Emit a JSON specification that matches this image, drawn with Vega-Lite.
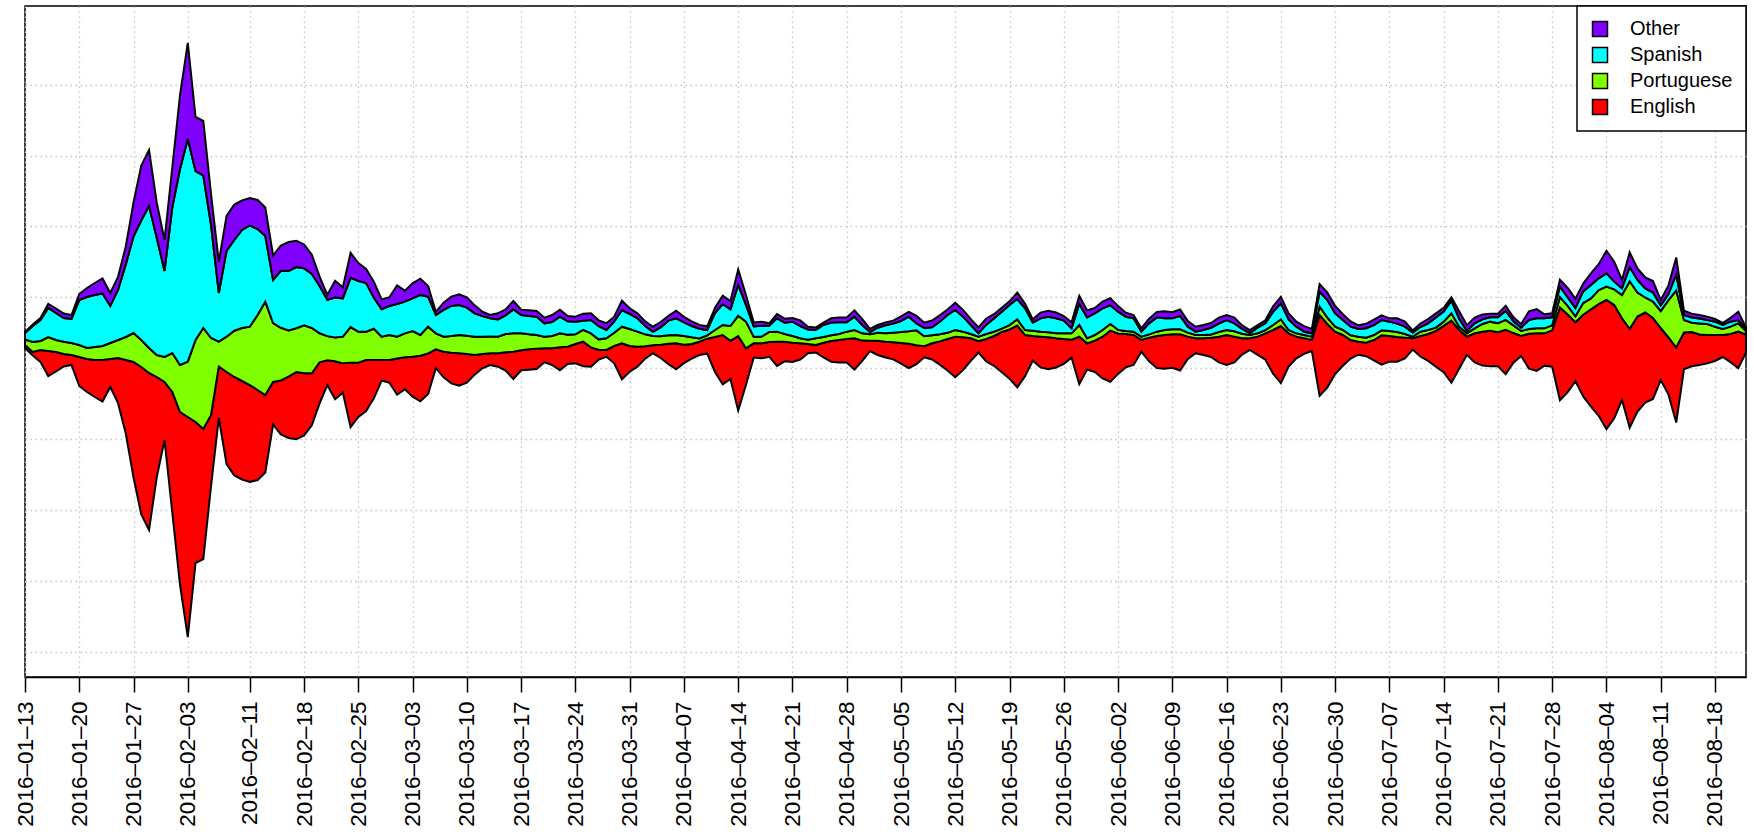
{
"$schema": "https://vega.github.io/schema/vega-lite/v6.json",
"width": 1721, "height": 671,
"autosize": {"type": "none"},
"padding": {"left": 25, "top": 6, "right": 8, "bottom": 159},
"background": "white",
"config": {"view": {"stroke": "black", "strokeWidth": 1.5}, "font": "Liberation Sans", "legend": {"strokeWidth": 1.5}},
"data": {"values": [
{"date":"2016-01-13","Other":1,"Spanish":6.5,"Portuguese":5.5,"English":3},
{"date":"2016-01-14","Other":1.5,"Spanish":16,"Portuguese":10,"English":3.5},
{"date":"2016-01-15","Other":2,"Spanish":21,"Portuguese":9,"English":12},
{"date":"2016-01-16","Other":4,"Spanish":29,"Portuguese":14,"English":25},
{"date":"2016-01-17","Other":4.5,"Spanish":27,"Portuguese":12,"English":19.5},
{"date":"2016-01-18","Other":4.5,"Spanish":23.7,"Portuguese":12.3,"English":12.5},
{"date":"2016-01-19","Other":4,"Spanish":24,"Portuguese":12,"English":10},
{"date":"2016-01-20","Other":6,"Spanish":45,"Portuguese":12,"English":29},
{"date":"2016-01-21","Other":9,"Spanish":51,"Portuguese":11,"English":33},
{"date":"2016-01-22","Other":12,"Spanish":52,"Portuguese":13,"English":37},
{"date":"2016-01-23","Other":15,"Spanish":52.5,"Portuguese":14,"English":41.5},
{"date":"2016-01-24","Other":13,"Spanish":37,"Portuguese":16,"English":28},
{"date":"2016-01-25","Other":13,"Spanish":50,"Portuguese":18,"English":45},
{"date":"2016-01-26","Other":18,"Spanish":72.5,"Portuguese":23,"English":73.5},
{"date":"2016-01-27","Other":34,"Spanish":96.5,"Portuguese":29,"English":115.5},
{"date":"2016-01-28","Other":55,"Spanish":119.5,"Portuguese":27,"English":147.5},
{"date":"2016-01-29","Other":56,"Spanish":142,"Portuguese":25,"English":157},
{"date":"2016-01-30","Other":35,"Spanish":117,"Portuguese":22,"English":100},
{"date":"2016-01-31","Other":31,"Spanish":86,"Portuguese":25,"English":58},
{"date":"2016-02-01","Other":40,"Spanish":145.5,"Portuguese":39,"English":120.5},
{"date":"2016-02-02","Other":74,"Spanish":196,"Portuguese":47,"English":173},
{"date":"2016-02-03","Other":96,"Spanish":222.7,"Portuguese":55.3,"English":220},
{"date":"2016-02-04","Other":54,"Spanish":169,"Portuguese":82,"English":141},
{"date":"2016-02-05","Other":54.6,"Spanish":152.4,"Portuguese":101,"English":130},
{"date":"2016-02-06","Other":31,"Spanish":113,"Portuguese":77,"English":71},
{"date":"2016-02-07","Other":31,"Spanish":48.7,"Portuguese":24.8,"English":51.5},
{"date":"2016-02-08","Other":35,"Spanish":85.7,"Portuguese":35.3,"English":92},
{"date":"2016-02-09","Other":35.5,"Spanish":90.7,"Portuguese":46.3,"English":98.5},
{"date":"2016-02-10","Other":29.5,"Spanish":98,"Portuguese":53,"English":98.5},
{"date":"2016-02-11","Other":27.5,"Spanish":101.2,"Portuguese":58.3,"English":97},
{"date":"2016-02-12","Other":29,"Spanish":86,"Portuguese":75,"English":90},
{"date":"2016-02-13","Other":28.5,"Spanish":65.7,"Portuguese":93.3,"English":77.5},
{"date":"2016-02-14","Other":24.5,"Spanish":43,"Portuguese":59,"English":42.5},
{"date":"2016-02-15","Other":25.3,"Spanish":57,"Portuguese":52.7,"English":54},
{"date":"2016-02-16","Other":29,"Spanish":59.3,"Portuguese":46.3,"English":61.3},
{"date":"2016-02-17","Other":26.3,"Spanish":61.3,"Portuguese":43.7,"English":67.3},
{"date":"2016-02-18","Other":23.7,"Spanish":57,"Portuguese":48,"English":62},
{"date":"2016-02-19","Other":19.3,"Spanish":54,"Portuguese":45.3,"English":52},
{"date":"2016-02-20","Other":9.3,"Spanish":47.3,"Portuguese":29,"English":41},
{"date":"2016-02-21","Other":5,"Spanish":36.3,"Portuguese":24,"English":25},
{"date":"2016-02-22","Other":16.7,"Spanish":40,"Portuguese":23.7,"English":38},
{"date":"2016-02-23","Other":11,"Spanish":38.3,"Portuguese":26.7,"English":29.3},
{"date":"2016-02-24","Other":25,"Spanish":49.3,"Portuguese":35.7,"English":64.3},
{"date":"2016-02-25","Other":18,"Spanish":50.7,"Portuguese":31,"English":54.3},
{"date":"2016-02-26","Other":14,"Spanish":48.7,"Portuguese":28.3,"English":51},
{"date":"2016-02-27","Other":16,"Spanish":31,"Portuguese":31.3,"English":38.3},
{"date":"2016-02-28","Other":10,"Spanish":27.3,"Portuguese":23.3,"English":20.7},
{"date":"2016-02-29","Other":8.7,"Spanish":29,"Portuguese":25,"English":22.7},
{"date":"2016-03-01","Other":18.7,"Spanish":32.7,"Portuguese":21.7,"English":36.3},
{"date":"2016-03-02","Other":11,"Spanish":31.7,"Portuguese":24,"English":32},
{"date":"2016-03-03","Other":15,"Spanish":32.7,"Portuguese":25.7,"English":40},
{"date":"2016-03-04","Other":16.3,"Spanish":40,"Portuguese":20.7,"English":45.7},
{"date":"2016-03-05","Other":10.7,"Spanish":30,"Portuguese":26.7,"English":40.7},
{"date":"2016-03-06","Other":3,"Spanish":18.3,"Portuguese":16,"English":18.7},
{"date":"2016-03-07","Other":7.3,"Spanish":26.7,"Portuguese":15,"English":25.7},
{"date":"2016-03-08","Other":9.3,"Spanish":30,"Portuguese":16.7,"English":30.7},
{"date":"2016-03-09","Other":10.7,"Spanish":30,"Portuguese":18.3,"English":32.3},
{"date":"2016-03-10","Other":10.3,"Spanish":28,"Portuguese":18.3,"English":28.7},
{"date":"2016-03-11","Other":8,"Spanish":23.3,"Portuguese":18.3,"English":19.7},
{"date":"2016-03-12","Other":4.3,"Spanish":20.7,"Portuguese":17.3,"English":14.3},
{"date":"2016-03-13","Other":3.3,"Spanish":18.3,"Portuguese":16.7,"English":11.7},
{"date":"2016-03-14","Other":6,"Spanish":17.3,"Portuguese":16.7,"English":13.3},
{"date":"2016-03-15","Other":6,"Spanish":18.7,"Portuguese":18.3,"English":18.3},
{"date":"2016-03-16","Other":8.3,"Spanish":24,"Portuguese":18.3,"English":27.3},
{"date":"2016-03-17","Other":5.3,"Spanish":18.3,"Portuguese":17,"English":20},
{"date":"2016-03-18","Other":5.7,"Spanish":18.3,"Portuguese":15,"English":20.3},
{"date":"2016-03-19","Other":5.7,"Spanish":18.3,"Portuguese":13.7,"English":20.3},
{"date":"2016-03-20","Other":5.7,"Spanish":13.3,"Portuguese":11.7,"English":14},
{"date":"2016-03-21","Other":7,"Spanish":14,"Portuguese":12.3,"English":16.7},
{"date":"2016-03-22","Other":7,"Spanish":16.7,"Portuguese":14,"English":23},
{"date":"2016-03-23","Other":5.3,"Spanish":13.3,"Portuguese":12,"English":17.3},
{"date":"2016-03-24","Other":5,"Spanish":12.7,"Portuguese":9.7,"English":19.3},
{"date":"2016-03-25","Other":6.8,"Spanish":9.3,"Portuguese":11.7,"English":24.5},
{"date":"2016-03-26","Other":6.7,"Spanish":13.3,"Portuguese":14,"English":19.3},
{"date":"2016-03-27","Other":5.7,"Spanish":13.3,"Portuguese":10.3,"English":10},
{"date":"2016-03-28","Other":6.7,"Spanish":8.3,"Portuguese":11.7,"English":6.7},
{"date":"2016-03-29","Other":5,"Spanish":11,"Portuguese":13.3,"English":17.3},
{"date":"2016-03-30","Other":9.2,"Spanish":16.7,"Portuguese":16.7,"English":35.8},
{"date":"2016-03-31","Other":5.7,"Spanish":15,"Portuguese":17,"English":25.7},
{"date":"2016-04-01","Other":5,"Spanish":13.3,"Portuguese":15,"English":20},
{"date":"2016-04-02","Other":4.7,"Spanish":8.3,"Portuguese":12,"English":12.3},
{"date":"2016-04-03","Other":5,"Spanish":4.3,"Portuguese":9.3,"English":8},
{"date":"2016-04-04","Other":5.3,"Spanish":9,"Portuguese":8.3,"English":13.3},
{"date":"2016-04-05","Other":4.8,"Spanish":14.7,"Portuguese":8.3,"English":20.5},
{"date":"2016-04-06","Other":7.7,"Spanish":16.7,"Portuguese":8.3,"English":26},
{"date":"2016-04-07","Other":5.5,"Spanish":13.7,"Portuguese":8.7,"English":18.5},
{"date":"2016-04-08","Other":4.7,"Spanish":11.3,"Portuguese":6.7,"English":14.7},
{"date":"2016-04-09","Other":3.7,"Spanish":9.7,"Portuguese":3.3,"English":13.3},
{"date":"2016-04-10","Other":3.7,"Spanish":5.3,"Portuguese":3.3,"English":15},
{"date":"2016-04-11","Other":5,"Spanish":17,"Portuguese":7,"English":35},
{"date":"2016-04-12","Other":8.3,"Spanish":21,"Portuguese":10,"English":49.3},
{"date":"2016-04-13","Other":8.2,"Spanish":16.7,"Portuguese":14.7,"English":38.2},
{"date":"2016-04-14","Other":15.5,"Spanish":30.7,"Portuguese":20.3,"English":74.5},
{"date":"2016-04-15","Other":10,"Spanish":16.7,"Portuguese":26.7,"English":36.7},
{"date":"2016-04-16","Other":4,"Spanish":10.2,"Portuguese":6.7,"English":14.2},
{"date":"2016-04-17","Other":4,"Spanish":11,"Portuguese":6.7,"English":15},
{"date":"2016-04-18","Other":2.3,"Spanish":6.3,"Portuguese":10,"English":14.7},
{"date":"2016-04-19","Other":4.2,"Spanish":13.3,"Portuguese":10,"English":24.2},
{"date":"2016-04-20","Other":4,"Spanish":11.3,"Portuguese":7.7,"English":19.7},
{"date":"2016-04-21","Other":3.7,"Spanish":14.3,"Portuguese":6.7,"English":19.3},
{"date":"2016-04-22","Other":5.5,"Spanish":12.3,"Portuguese":5,"English":16.2},
{"date":"2016-04-23","Other":2.7,"Spanish":10.3,"Portuguese":4.3,"English":9.3},
{"date":"2016-04-24","Other":2.5,"Spanish":8.3,"Portuguese":6.7,"English":7.5},
{"date":"2016-04-25","Other":2.5,"Spanish":12,"Portuguese":5.7,"English":14.8},
{"date":"2016-04-26","Other":4.3,"Spanish":12.7,"Portuguese":5.7,"English":20.7},
{"date":"2016-04-27","Other":4.8,"Spanish":11.7,"Portuguese":6,"English":22.5},
{"date":"2016-04-28","Other":4.8,"Spanish":9.3,"Portuguese":7.3,"English":23.5},
{"date":"2016-04-29","Other":6.3,"Spanish":13.3,"Portuguese":8.3,"English":31.3},
{"date":"2016-04-30","Other":5.8,"Spanish":8.3,"Portuguese":7.3,"English":20.2},
{"date":"2016-05-01","Other":3.2,"Spanish":2.3,"Portuguese":6.3,"English":10.5},
{"date":"2016-05-02","Other":2.7,"Spanish":5,"Portuguese":8,"English":14.3},
{"date":"2016-05-03","Other":2.8,"Spanish":8,"Portuguese":8.3,"English":15.8},
{"date":"2016-05-04","Other":3,"Spanish":9,"Portuguese":9.7,"English":17},
{"date":"2016-05-05","Other":4.7,"Spanish":11,"Portuguese":11,"English":20.7},
{"date":"2016-05-06","Other":4.8,"Spanish":14.7,"Portuguese":12.3,"English":24.5},
{"date":"2016-05-07","Other":7.5,"Spanish":7,"Portuguese":15,"English":18.8},
{"date":"2016-05-08","Other":5.3,"Spanish":8.3,"Portuguese":10,"English":11},
{"date":"2016-05-09","Other":6.8,"Spanish":8,"Portuguese":8,"English":16.2},
{"date":"2016-05-10","Other":6.3,"Spanish":12.7,"Portuguese":7,"English":23.3},
{"date":"2016-05-11","Other":5.5,"Spanish":17.7,"Portuguese":6.3,"English":31.5},
{"date":"2016-05-12","Other":7.2,"Spanish":20,"Portuguese":6.7,"English":40.5},
{"date":"2016-05-13","Other":6.8,"Spanish":15,"Portuguese":5.7,"English":32.8},
{"date":"2016-05-14","Other":5.8,"Spanish":9,"Portuguese":4.3,"English":22.5},
{"date":"2016-05-15","Other":5.8,"Spanish":3.3,"Portuguese":4.7,"English":11.2},
{"date":"2016-05-16","Other":6.2,"Spanish":9.3,"Portuguese":5,"English":22.5},
{"date":"2016-05-17","Other":4.2,"Spanish":13.3,"Portuguese":4.3,"English":29.8},
{"date":"2016-05-18","Other":4,"Spanish":17,"Portuguese":3.3,"English":40.3},
{"date":"2016-05-19","Other":3.7,"Spanish":20,"Portuguese":4.3,"English":49.3},
{"date":"2016-05-20","Other":6.3,"Spanish":20.3,"Portuguese":6.3,"English":61.7},
{"date":"2016-05-21","Other":4.7,"Spanish":21.7,"Portuguese":5,"English":41.3},
{"date":"2016-05-22","Other":3.3,"Spanish":8,"Portuguese":5.3,"English":24.7},
{"date":"2016-05-23","Other":5.8,"Spanish":13.3,"Portuguese":5,"English":30.8},
{"date":"2016-05-24","Other":5.8,"Spanish":15.7,"Portuguese":5,"English":31.8},
{"date":"2016-05-25","Other":5.8,"Spanish":15,"Portuguese":5,"English":29.2},
{"date":"2016-05-26","Other":4.5,"Spanish":12.7,"Portuguese":5.7,"English":24.8},
{"date":"2016-05-27","Other":6,"Spanish":5,"Portuguese":6.3,"English":18},
{"date":"2016-05-28","Other":8.2,"Spanish":21,"Portuguese":11.7,"English":47.5},
{"date":"2016-05-29","Other":7,"Spanish":21,"Portuguese":5,"English":26.3},
{"date":"2016-05-30","Other":5.3,"Spanish":21.7,"Portuguese":5.7,"English":31.3},
{"date":"2016-05-31","Other":6.7,"Spanish":21.7,"Portuguese":6.7,"English":41.7},
{"date":"2016-06-01","Other":7,"Spanish":18.7,"Portuguese":6.7,"English":51},
{"date":"2016-06-02","Other":5.5,"Spanish":18.3,"Portuguese":3.5,"English":40.5},
{"date":"2016-06-03","Other":4,"Spanish":14.3,"Portuguese":3,"English":33.3},
{"date":"2016-06-04","Other":3.3,"Spanish":13.3,"Portuguese":3.3,"English":30},
{"date":"2016-06-05","Other":3.3,"Spanish":5,"Portuguese":3.3,"English":11.7},
{"date":"2016-06-06","Other":4.7,"Spanish":11,"Portuguese":3.3,"English":23.7},
{"date":"2016-06-07","Other":5.3,"Spanish":14.3,"Portuguese":4.3,"English":32},
{"date":"2016-06-08","Other":7,"Spanish":11.7,"Portuguese":5,"English":33.7},
{"date":"2016-06-09","Other":6.2,"Spanish":11,"Portuguese":5,"English":33.5},
{"date":"2016-06-10","Other":6.5,"Spanish":13.3,"Portuguese":5,"English":36.2},
{"date":"2016-06-11","Other":5.5,"Spanish":6,"Portuguese":4,"English":22.2},
{"date":"2016-06-12","Other":5,"Spanish":3.3,"Portuguese":3.3,"English":15},
{"date":"2016-06-13","Other":5,"Spanish":5,"Portuguese":3.3,"English":16.7},
{"date":"2016-06-14","Other":4.7,"Spanish":6.7,"Portuguese":3.3,"English":19.3},
{"date":"2016-06-15","Other":6,"Spanish":8.3,"Portuguese":4.7,"English":25.7},
{"date":"2016-06-16","Other":5,"Spanish":10,"Portuguese":5,"English":30},
{"date":"2016-06-17","Other":5.8,"Spanish":8,"Portuguese":5.3,"English":25.8},
{"date":"2016-06-18","Other":3.5,"Spanish":4.7,"Portuguese":4.7,"English":16.2},
{"date":"2016-06-19","Other":3,"Spanish":2,"Portuguese":3.3,"English":11.7},
{"date":"2016-06-20","Other":2.5,"Spanish":5.7,"Portuguese":3.3,"English":18.2},
{"date":"2016-06-21","Other":3,"Spanish":6.7,"Portuguese":3.3,"English":26.3},
{"date":"2016-06-22","Other":5.5,"Spanish":13.3,"Portuguese":5,"English":43.8},
{"date":"2016-06-23","Other":6.5,"Spanish":16,"Portuguese":6.7,"English":57.2},
{"date":"2016-06-24","Other":6,"Spanish":10.7,"Portuguese":3.3,"English":33.3},
{"date":"2016-06-25","Other":5,"Spanish":6.7,"Portuguese":3.3,"English":21.7},
{"date":"2016-06-26","Other":5.5,"Spanish":3.3,"Portuguese":3.3,"English":15.5},
{"date":"2016-06-27","Other":4.5,"Spanish":3.3,"Portuguese":3.3,"English":11.2},
{"date":"2016-06-28","Other":7.5,"Spanish":15,"Portuguese":8.3,"English":80.8},
{"date":"2016-06-29","Other":7.3,"Spanish":17.7,"Portuguese":6.3,"English":63.3},
{"date":"2016-06-30","Other":7.3,"Spanish":13.3,"Portuguese":5,"English":42.3},
{"date":"2016-07-01","Other":5.7,"Spanish":10,"Portuguese":5,"English":30.7},
{"date":"2016-07-02","Other":5.2,"Spanish":8.7,"Portuguese":4.7,"English":18.5},
{"date":"2016-07-03","Other":3.7,"Spanish":7.7,"Portuguese":5,"English":13},
{"date":"2016-07-04","Other":4.5,"Spanish":9.3,"Portuguese":5,"English":13.5},
{"date":"2016-07-05","Other":5.3,"Spanish":10,"Portuguese":5,"English":20.3},
{"date":"2016-07-06","Other":4.7,"Spanish":10.3,"Portuguese":5,"English":29.3},
{"date":"2016-07-07","Other":3.3,"Spanish":9.3,"Portuguese":5,"English":25.7},
{"date":"2016-07-08","Other":5.3,"Spanish":8.3,"Portuguese":5,"English":24.7},
{"date":"2016-07-09","Other":5,"Spanish":7.3,"Portuguese":3.7,"English":20.7},
{"date":"2016-07-10","Other":2,"Spanish":4.2,"Portuguese":1.7,"English":11.2},
{"date":"2016-07-11","Other":3.5,"Spanish":4.7,"Portuguese":4.3,"English":20.5},
{"date":"2016-07-12","Other":4.3,"Spanish":6.7,"Portuguese":4,"English":27},
{"date":"2016-07-13","Other":4,"Spanish":10.3,"Portuguese":3.3,"English":35.7},
{"date":"2016-07-14","Other":3.8,"Spanish":10,"Portuguese":4.3,"English":46.2},
{"date":"2016-07-15","Other":3.3,"Spanish":12.7,"Portuguese":7.3,"English":62},
{"date":"2016-07-16","Other":7.5,"Spanish":8,"Portuguese":3.3,"English":38.8},
{"date":"2016-07-17","Other":5.8,"Spanish":2.3,"Portuguese":3.3,"English":18.2},
{"date":"2016-07-18","Other":5.8,"Spanish":5,"Portuguese":5,"English":29.2},
{"date":"2016-07-19","Other":4.7,"Spanish":4.7,"Portuguese":7.7,"English":33.7},
{"date":"2016-07-20","Other":3.7,"Spanish":4.3,"Portuguese":9,"English":35.7},
{"date":"2016-07-21","Other":3.5,"Spanish":6,"Portuguese":9,"English":34.2},
{"date":"2016-07-22","Other":5,"Spanish":9,"Portuguese":10,"English":44.3},
{"date":"2016-07-23","Other":4,"Spanish":4,"Portuguese":7.7,"English":29.6},
{"date":"2016-07-24","Other":3.7,"Spanish":3.3,"Portuguese":5,"English":20},
{"date":"2016-07-25","Other":8.7,"Spanish":9,"Portuguese":4.7,"English":35},
{"date":"2016-07-26","Other":9.2,"Spanish":10,"Portuguese":5,"English":37.5},
{"date":"2016-07-27","Other":4,"Spanish":10,"Portuguese":5,"English":32.3},
{"date":"2016-07-28","Other":4,"Spanish":8,"Portuguese":5,"English":36.3},
{"date":"2016-07-29","Other":6.7,"Spanish":10.5,"Portuguese":10.5,"English":92.5},
{"date":"2016-07-30","Other":9.5,"Spanish":8.3,"Portuguese":8.8,"English":77.4},
{"date":"2016-07-31","Other":9.2,"Spanish":8.3,"Portuguese":6,"English":59},
{"date":"2016-08-01","Other":7.8,"Spanish":11.7,"Portuguese":11.7,"English":81.7},
{"date":"2016-08-02","Other":11.7,"Spanish":13.3,"Portuguese":11,"English":97.3},
{"date":"2016-08-03","Other":14.2,"Spanish":11.7,"Portuguese":14,"English":111.8},
{"date":"2016-08-04","Other":22.5,"Spanish":13.3,"Portuguese":13.3,"English":129.2},
{"date":"2016-08-05","Other":20,"Spanish":7.7,"Portuguese":15.7,"English":113.3},
{"date":"2016-08-06","Other":8.3,"Spanish":6.7,"Portuguese":23.3,"English":81.7},
{"date":"2016-08-07","Other":14.7,"Spanish":14.2,"Portuguese":47.5,"English":98.8},
{"date":"2016-08-08","Other":11.5,"Spanish":12.5,"Portuguese":24,"English":95},
{"date":"2016-08-09","Other":11,"Spanish":9,"Portuguese":15,"English":90},
{"date":"2016-08-10","Other":11.5,"Spanish":9,"Portuguese":16.5,"English":81},
{"date":"2016-08-11","Other":5.5,"Spanish":5.5,"Portuguese":17,"English":52},
{"date":"2016-08-12","Other":8.7,"Spanish":6,"Portuguese":37.3,"English":57.3},
{"date":"2016-08-13","Other":17,"Spanish":16,"Portuguese":57,"English":75},
{"date":"2016-08-14","Other":4.2,"Spanish":5,"Portuguese":12.5,"English":36.7},
{"date":"2016-08-15","Other":3.7,"Spanish":5.3,"Portuguese":9.3,"English":34.3},
{"date":"2016-08-16","Other":3.5,"Spanish":5,"Portuguese":11,"English":30.7},
{"date":"2016-08-17","Other":3.5,"Spanish":4,"Portuguese":11,"English":28.3},
{"date":"2016-08-18","Other":2.7,"Spanish":5,"Portuguese":8.3,"English":26},
{"date":"2016-08-19","Other":2,"Spanish":4,"Portuguese":6,"English":22},
{"date":"2016-08-20","Other":3.8,"Spanish":5,"Portuguese":7.3,"English":28.2},
{"date":"2016-08-21","Other":8.3,"Spanish":3.3,"Portuguese":8.3,"English":36.7},
{"date":"2016-08-22","Other":1.5,"Spanish":2,"Portuguese":3.5,"English":18}
]},
"transform": [
  {"fold": ["English", "Portuguese", "Spanish", "Other"], "as": ["lang", "value"]},
  {"lookup": "lang", "from": {"data": {"values": [{"lang": "English", "rank": 1}, {"lang": "Portuguese", "rank": 2}, {"lang": "Spanish", "rank": 3}, {"lang": "Other", "rank": 4}]}, "key": "lang", "fields": ["rank"]}}
],
"mark": {"type": "area", "stroke": "black", "strokeWidth": 2, "interpolate": "linear", "opacity": 1, "fillOpacity": 1},
"encoding": {
  "x": {"field": "date", "type": "temporal", "timeUnit": "utcyearmonthdate",
    "scale": {"domain": [{"year": 2016, "month": 1, "date": 13, "utc": true}, {"year": 2016, "month": 8, "date": 22, "utc": true}]},
    "axis": {"title": null, "format": "%Y–%m–%d", "labelAngle": -90, "labelFontSize": 22.5, "labelFont": "Liberation Sans", "labelColor": "black", "labelPadding": 9, "labelOverlap": false, "labelFlush": false, "labelBound": false,
      "tickSize": 15, "tickColor": "black", "tickWidth": 1.5, "domainColor": "black", "domainWidth": 1.5,
      "grid": true, "gridColor": "#C4C4C4", "gridDash": [1.5, 3.5], "gridWidth": 1.3,
      "values": [
        {"year": 2016, "month": 1, "date": 13, "utc": true}, {"year": 2016, "month": 1, "date": 20, "utc": true}, {"year": 2016, "month": 1, "date": 27, "utc": true},
        {"year": 2016, "month": 2, "date": 3, "utc": true}, {"year": 2016, "month": 2, "date": 11, "utc": true}, {"year": 2016, "month": 2, "date": 18, "utc": true}, {"year": 2016, "month": 2, "date": 25, "utc": true},
        {"year": 2016, "month": 3, "date": 3, "utc": true}, {"year": 2016, "month": 3, "date": 10, "utc": true}, {"year": 2016, "month": 3, "date": 17, "utc": true}, {"year": 2016, "month": 3, "date": 24, "utc": true}, {"year": 2016, "month": 3, "date": 31, "utc": true},
        {"year": 2016, "month": 4, "date": 7, "utc": true}, {"year": 2016, "month": 4, "date": 14, "utc": true}, {"year": 2016, "month": 4, "date": 21, "utc": true}, {"year": 2016, "month": 4, "date": 28, "utc": true},
        {"year": 2016, "month": 5, "date": 5, "utc": true}, {"year": 2016, "month": 5, "date": 12, "utc": true}, {"year": 2016, "month": 5, "date": 19, "utc": true}, {"year": 2016, "month": 5, "date": 26, "utc": true},
        {"year": 2016, "month": 6, "date": 2, "utc": true}, {"year": 2016, "month": 6, "date": 9, "utc": true}, {"year": 2016, "month": 6, "date": 16, "utc": true}, {"year": 2016, "month": 6, "date": 23, "utc": true}, {"year": 2016, "month": 6, "date": 30, "utc": true},
        {"year": 2016, "month": 7, "date": 7, "utc": true}, {"year": 2016, "month": 7, "date": 14, "utc": true}, {"year": 2016, "month": 7, "date": 21, "utc": true}, {"year": 2016, "month": 7, "date": 28, "utc": true},
        {"year": 2016, "month": 8, "date": 4, "utc": true}, {"year": 2016, "month": 8, "date": 11, "utc": true}, {"year": 2016, "month": 8, "date": 18, "utc": true}
      ]}},
  "y": {"field": "value", "type": "quantitative", "stack": "center",
    "scale": {"domain": [-40, 631], "nice": false, "zero": false},
    "axis": {"title": null, "labels": false, "ticks": false, "domain": false, "grid": true, "gridColor": "#C4C4C4", "gridDash": [1.5, 3.5], "gridWidth": 1.3,
      "values": [552.4, 481.5, 410.6, 339.7, 268.8, 197.9, 127, 56.1, -14.8]}},
  "color": {"field": "lang", "type": "nominal",
    "scale": {"domain": ["Other", "Spanish", "Portuguese", "English"], "range": ["#8000FF", "#00FFFF", "#80FF00", "#FF0000"]},
    "legend": {"title": null, "orient": "top-right", "offset": 0, "padding": 13, "strokeColor": "black", "fillColor": "white",
      "symbolType": "square", "symbolSize": 225, "symbolStrokeColor": "black", "symbolStrokeWidth": 1.5, "symbolOpacity": 1,
      "labelFontSize": 20, "labelFont": "Liberation Sans", "labelColor": "black", "labelOffset": 20, "rowPadding": 4}},
  "order": {"field": "rank", "type": "quantitative"}
}
}
